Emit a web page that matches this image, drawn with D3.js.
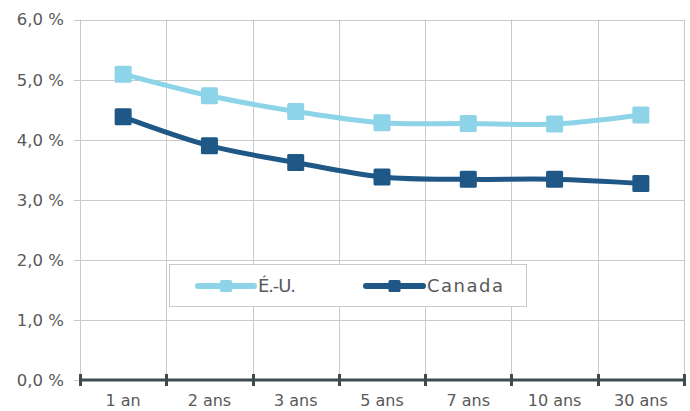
<!DOCTYPE html>
<html><head><meta charset="utf-8">
<script src="https://cdn.jsdelivr.net/npm/d3@7"></script>
<style>
html,body{margin:0;padding:0;background:#fff;}
svg{display:block;}
text{font-family:"DejaVu Sans",sans-serif;fill:#595959;}
</style></head>
<body>
<svg id="c" width="690" height="411"></svg>
<script>
const categories = ["1 an","2 ans","3 ans","5 ans","7 ans","10 ans","30 ans"];
const usValues = [5.09, 4.73, 4.47, 4.28, 4.27, 4.26, 4.41];
const caValues = [4.38, 3.90, 3.62, 3.38, 3.34, 3.34, 3.27];
const yTicks = [0,1,2,3,4,5,6];
const seriesNames = ["É.-U.", "Canada"];
const colors = ["#8dd4e8", "#1f5886"];

const svg = d3.select("#c");
const x = d3.scaleBand().domain(categories).range([80, 684]).padding(0);
const y = d3.scaleLinear().domain([0, 6]).range([380, 19.5]);
const fmt = v => d3.format(".1f")(v).replace(".", ",") + " %";

// horizontal gridlines + y ticks
svg.append("g").selectAll("line").data(yTicks).join("line")
  .attr("x1", 74).attr("x2", 684)
  .attr("y1", d => Math.round(y(d)) + 0.5).attr("y2", d => Math.round(y(d)) + 0.5)
  .attr("stroke", "#cacaca").attr("stroke-width", 1);

// vertical gridlines at band boundaries
const bounds = categories.map(c => x(c)).concat([x.range()[1]]);
svg.append("g").selectAll("line").data(bounds).join("line")
  .attr("x1", d => Math.round(d) + 0.5).attr("x2", d => Math.round(d) + 0.5)
  .attr("y1", y(6)).attr("y2", y(0))
  .attr("stroke", "#cacaca").attr("stroke-width", 1);

// y labels
svg.append("g").selectAll("text").data(yTicks).join("text")
  .attr("x", 64).attr("y", d => y(d)).attr("dy", "0.36em")
  .attr("text-anchor", "end").style("font-size", "16.5px")
  .text(fmt);

// x axis line and ticks
svg.append("line").attr("x1", 80).attr("x2", 684).attr("y1", y(0)).attr("y2", y(0))
  .attr("stroke", "#3e4c50").attr("stroke-width", 3);
svg.append("g").selectAll("line").data(bounds).join("line")
  .attr("x1", d => Math.round(d) + 0.5).attr("x2", d => Math.round(d) + 0.5)
  .attr("y1", y(0) - 6).attr("y2", y(0) + 6)
  .attr("stroke", "#3e4c50").attr("stroke-width", 3);

// x labels
svg.append("g").selectAll("text").data(categories).join("text")
  .attr("x", d => x(d) + x.bandwidth() / 2).attr("y", 406)
  .attr("text-anchor", "middle").style("font-size", "16px")
  .text(d => d);

// series
const series = [usValues, caValues];
const line = d3.line()
  .x((d, i) => x(categories[i]) + x.bandwidth() / 2)
  .y(d => y(d))
  .curve(d3.curveCardinal.tension(0));

series.forEach((vals, si) => {
  svg.append("path").datum(vals).attr("d", line)
    .attr("fill", "none").attr("stroke", colors[si]).attr("stroke-width", 5)
    .attr("stroke-linejoin", "round");
  const ms = 17;
  svg.append("g").selectAll("rect").data(vals).join("rect")
    .attr("x", (d, i) => x(categories[i]) + x.bandwidth() / 2 - ms / 2)
    .attr("y", d => y(d) - ms / 2)
    .attr("width", ms).attr("height", ms).attr("rx", 1.5)
    .attr("fill", colors[si]);
});

// legend
const lg = svg.append("g");
lg.append("rect").attr("x", 169.5).attr("y", 264.5).attr("width", 357).attr("height", 42)
  .attr("fill", "#fff").attr("stroke", "#cacaca").attr("stroke-width", 1);
const legendItems = [
  {x1: 198, x2: 254, tx: 258, w: 38},
  {x1: 366, x2: 423, tx: 427, w: 76}
];
legendItems.forEach((it, i) => {
  const ly = 286;
  lg.append("line").attr("x1", it.x1).attr("x2", it.x2).attr("y1", ly).attr("y2", ly)
    .attr("stroke", colors[i]).attr("stroke-width", 6).attr("stroke-linecap", "round");
  lg.append("rect").attr("x", (it.x1 + it.x2) / 2 - 6).attr("y", ly - 6)
    .attr("width", 12).attr("height", 12).attr("rx", 1.5).attr("fill", colors[i]);
  lg.append("text").attr("x", it.tx).attr("y", ly).attr("dy", "0.36em")
    .style("font-size", "18px")
    .attr("textLength", it.w).attr("lengthAdjust", "spacing")
    .text(seriesNames[i]);
});
</script>
</body></html>
